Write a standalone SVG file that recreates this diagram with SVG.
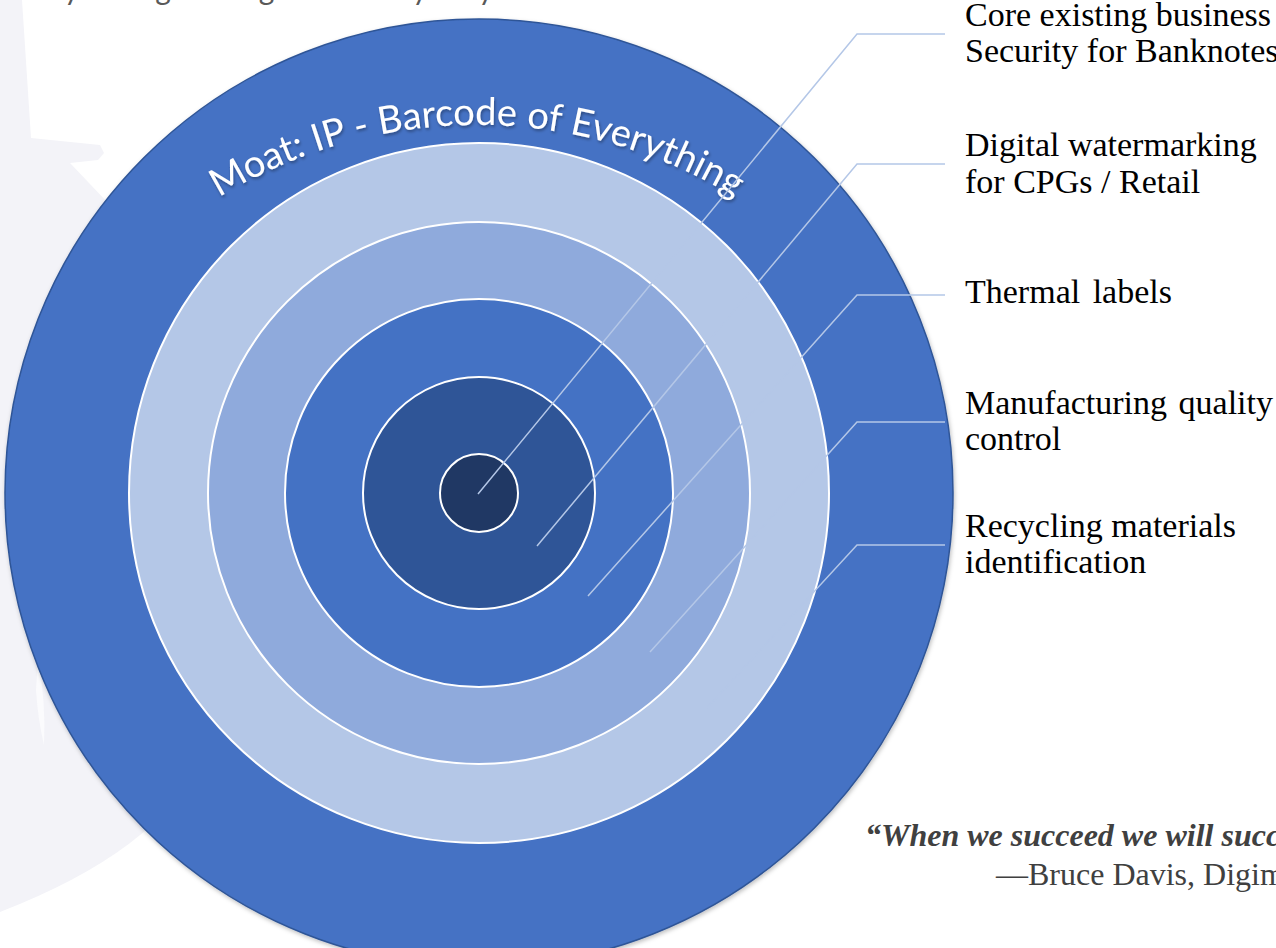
<svg xmlns="http://www.w3.org/2000/svg" width="1276" height="948" viewBox="0 0 1276 948">
  <style>
    .ring { stroke: #ffffff; stroke-width: 2; }
    .leader { fill: none; stroke: #b4c7e7; stroke-width: 1.5; }
    .label { font-family: "Liberation Serif", "Times New Roman", serif; font-size: 34px; fill: #000000; }
    .quote { font-family: "Liberation Serif", "Times New Roman", serif; font-size: 32px; fill: #404040; }
    .moat { font-family: Lato, "Open Sans", sans-serif; font-size: 38px; fill: #ffffff; }
    .top-text { font-family: Lato, "Open Sans", sans-serif; font-size: 30px; fill: #595959; }
  </style>
  <defs>
    <filter id="soft-shadow" x="-10%" y="-10%" width="120%" height="120%">
      <feDropShadow dx="1" dy="2" stdDeviation="2" flood-color="#000000" flood-opacity="0.25"/>
    </filter>
    <filter id="text-shadow" x="-5%" y="-20%" width="110%" height="140%">
      <feDropShadow dx="1" dy="2" stdDeviation="1.5" flood-color="#000000" flood-opacity="0.35"/>
    </filter>
    <path id="moat-arc" d="M158.8,240.8 A495,495 0 0 1 795.2,240.8"/>
  </defs>

  <rect width="1276" height="948" fill="#ffffff"/>

  <!-- faint watermark shape behind the rings -->
  <g id="watermark">
    <path d="M0,0 L22,0 L31,138 L100,145 L104,153 L98,160 L70,163 L200,300 L200,760 Q160,850 0,912 Z" fill="#f3f3f8"/>
    <path d="M38,660 Q46,700 44,745 Q38,720 36,690 Z" fill="#fbfbfd"/>
  </g>

  <!-- heading text running off the top edge -->
  <text class="top-text" x="26" y="0">way for big and high and everybody</text>

  <!-- concentric rings, outermost first -->
  <g id="ring-moat">
    <circle cx="479" cy="493" r="474" fill="#4472c4" stroke="#2f5597" stroke-width="1.5" filter="url(#soft-shadow)"/>
    <text class="moat" filter="url(#text-shadow)"><textPath href="#moat-arc" startOffset="50%" text-anchor="middle">Moat: IP - Barcode of Everything</textPath></text>
  </g>
  <g id="ring-recycling">
    <circle class="ring" cx="479" cy="493" r="350" fill="#b4c7e7"/>
  </g>
  <g id="ring-manufacturing">
    <circle class="ring" cx="479" cy="493" r="271" fill="#8faadc"/>
  </g>
  <g id="ring-thermal">
    <circle class="ring" cx="479" cy="493" r="194" fill="#4472c4"/>
  </g>
  <g id="ring-digital">
    <circle class="ring" cx="479" cy="493" r="116" fill="#2f5597"/>
  </g>
  <g id="ring-core">
    <circle class="ring" cx="479" cy="493" r="39" fill="#203864"/>
  </g>

  <!-- leader lines from each ring to its label -->
  <g id="connectors">
    <polyline class="leader" points="478,494 857,34 945,34"/>
    <polyline class="leader" points="537,546 857,164 945,164"/>
    <polyline class="leader" points="588,596 857,295 945,295"/>
    <polyline class="leader" points="650,652 857,422 945,422"/>
    <polyline class="leader" points="707,708 857,545 945,545"/>
  </g>

  <g id="label-core">
    <text class="label" x="965" y="26">Core existing business</text>
    <text class="label" x="965" y="62">Security for Banknotes</text>
  </g>
  <g id="label-digital">
    <text class="label" x="965" y="156">Digital watermarking</text>
    <text class="label" x="965" y="193">for CPGs / Retail</text>
  </g>
  <g id="label-thermal">
    <text class="label" x="965" y="303" word-spacing="4">Thermal labels</text>
  </g>
  <g id="label-manufacturing">
    <text class="label" x="965" y="414" word-spacing="3">Manufacturing quality</text>
    <text class="label" x="965" y="450">control</text>
  </g>
  <g id="label-recycling">
    <text class="label" x="965" y="537">Recycling materials</text>
    <text class="label" x="965" y="573">identification</text>
  </g>

  <g id="quote">
    <text class="quote" x="865" y="846" font-weight="bold" font-style="italic">“When we succeed we will succeed</text>
    <text class="quote" x="996" y="885">—Bruce Davis, Digimarc</text>
  </g>
</svg>
